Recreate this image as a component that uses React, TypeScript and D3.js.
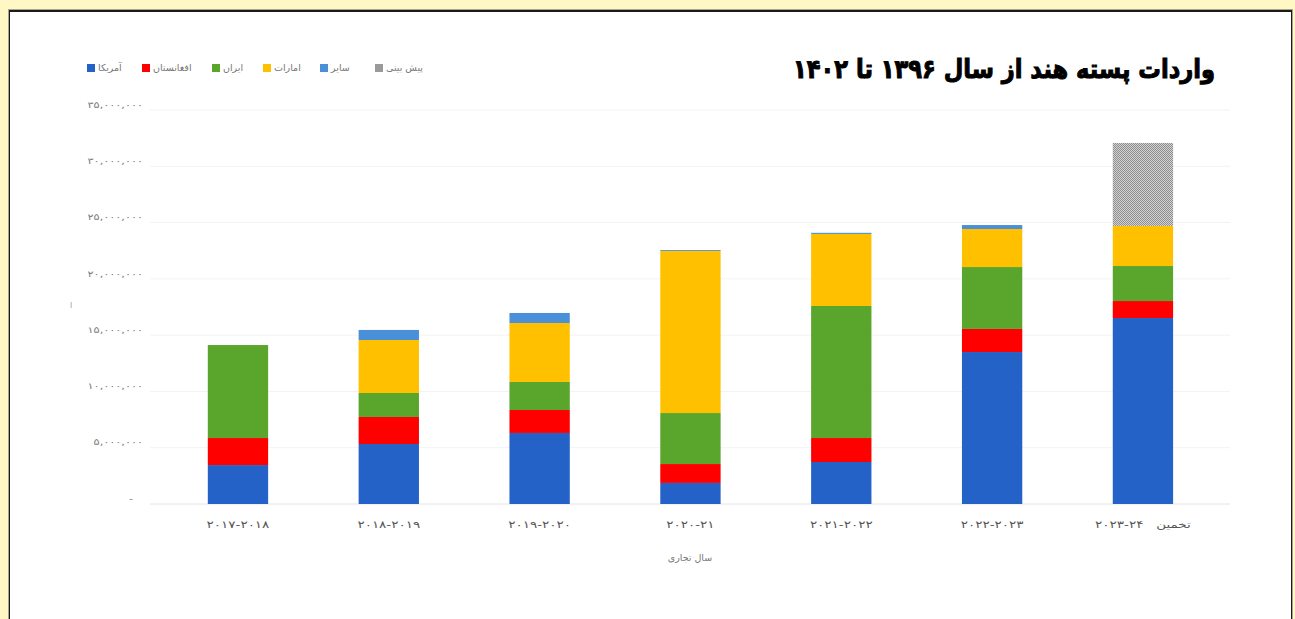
import React from "react";
import * as d3 from "d3";

const categories = ["2017-18", "2018-19", "2019-20", "2020-21", "2021-22", "2022-23", "2023-24"];
const categoryLabels = [
  "۲۰۱۷-۲۰۱۸",
  "۲۰۱۸-۲۰۱۹",
  "۲۰۱۹-۲۰۲۰",
  "۲۰۲۰-۲۱",
  "۲۰۲۱-۲۰۲۲",
  "۲۰۲۲-۲۰۲۳",
  "۲۰۲۳-۲۴\u00a0\u00a0\u00a0تخمین",
];

// values (millions)
const usa = [3.46, 5.33, 6.31, 1.87, 3.73, 13.5, 16.52].map((v) => v * 1e6);
const afghanistan = [2.4, 2.4, 2.04, 1.68, 2.13, 2.05, 1.51].map((v) => v * 1e6);
const iran = [8.26, 2.13, 2.49, 4.53, 11.73, 5.5, 3.11].map((v) => v * 1e6);
const uae = [0, 4.71, 5.24, 14.4, 6.4, 3.38, 3.56].map((v) => v * 1e6);
const other = [0, 0.89, 0.89, 0.08, 0.1, 0.35, 0].map((v) => v * 1e6);
const forecast = [0, 0, 0, 0, 0, 0, 7.37].map((v) => v * 1e6);

const seriesKeys = ["usa", "afghanistan", "iran", "uae", "other", "forecast"];
const seriesNames = ["آمریکا", "افغانستان", "ایران", "امارات", "سایر", "پیش بینی"];
const seriesColors = ["#2562c8", "#ff0000", "#5aa52c", "#ffc000", "#4a90d8", "url(#fcPattern)"];
const legendColors = ["#2562c8", "#ff0000", "#5aa52c", "#ffc000", "#4a90d8", "#9a9a9a"];

const yTicks = [0, 5e6, 10e6, 15e6, 20e6, 25e6, 30e6, 35e6];
const yTickLabels = ["-", "۵,۰۰۰,۰۰۰", "۱۰,۰۰۰,۰۰۰", "۱۵,۰۰۰,۰۰۰", "۲۰,۰۰۰,۰۰۰", "۲۵,۰۰۰,۰۰۰", "۳۰,۰۰۰,۰۰۰", "۳۵,۰۰۰,۰۰۰"];

const title = "واردات پسته هند از سال ۱۳۹۶ تا ۱۴۰۲";
const xTitle = "سال تجاری";

const W = 1295;
const H = 619;
const FONT = "'DejaVu Sans', sans-serif";

export default function App() {
  const rows = categories.map((c, i) => ({
    cat: c,
    usa: usa[i],
    afghanistan: afghanistan[i],
    iran: iran[i],
    uae: uae[i],
    other: other[i],
    forecast: forecast[i],
  }));
  const stacked = d3.stack<any>().keys(seriesKeys)(rows);

  const x = d3.scaleBand<string>().domain(categories).range([117.3, 1263.6]).padding(0.6);
  const y = d3.scaleLinear().domain([0, 35e6]).range([504, 110]);

  const legendX = [87, 142, 212, 263, 320, 375];

  return (
    <div style={{ position: "fixed", left: 0, top: 0, width: W, height: H }}>
      <svg width={W} height={H} style={{ display: "block" }}>
        <defs>
          <pattern id="fcPattern" width="2" height="2" patternUnits="userSpaceOnUse">
            <rect width="2" height="2" fill="#d2d2d2" />
            <rect x="0" y="0" width="1" height="1" fill="#8e8e8e" />
            <rect x="1" y="1" width="1" height="1" fill="#8e8e8e" />
          </pattern>
        </defs>
        <rect x={0} y={0} width={W} height={H} fill="#fff8c4" />
        <rect x={8} y={9} width={1285} height={H} fill="#a9a48a" />
        <rect x={9} y={10} width={1283} height={H} fill="#1a1a1a" />
        <rect x={10} y={12} width={1281} height={H} fill="#ffffff" />

        {/* gridlines */}
        {yTicks.map((t) => (
          <line key={t} x1={150} x2={1230} y1={y(t)} y2={y(t)} stroke={t === 0 ? "#e4e4e4" : "#f3f3f3"} strokeWidth={1} />
        ))}
        {/* y labels */}
        {yTicks.map((t, i) => (
          <text
            key={"l" + t}
            transform={`translate(${t === 0 ? 133 : 143},${y(t) - 5}) scale(1.25,1)`}
            textAnchor="end"
            dominantBaseline="middle"
            fontFamily={FONT}
            fontSize={9}
            fill="#7a7a7a"
          >
            {yTickLabels[i]}
          </text>
        ))}
        <text x={70} y={308} fontFamily={FONT} fontSize={8} fill="#999">ا</text>

        {/* bars */}
        {stacked.map((s, si) => (
          <g key={s.key} fill={seriesColors[si]}>
            {s.map((d, i) =>
              d[1] - d[0] > 0 ? (
                <rect
                  key={i}
                  x={x(categories[i])}
                  width={x.bandwidth()}
                  y={y(d[1])}
                  height={y(d[0]) - y(d[1])}
                />
              ) : null
            )}
          </g>
        ))}

        {/* x labels */}
        {categories.map((c, i) => (
          <text
            key={c}
            transform={`translate(${(x(c) as number) + x.bandwidth() / 2},528) scale(1.35,1)`}
            textAnchor="middle"
            fontFamily={FONT}
            fontSize={10}
            fill="#555"
          >
            {categoryLabels[i]}
          </text>
        ))}
        <text x={690} y={561} textAnchor="middle" fontFamily={FONT} fontSize={9.5} fill="#777">
          {xTitle}
        </text>

        {/* legend */}
        {seriesNames.map((n, i) => (
          <g key={n}>
            <rect x={legendX[i]} y={64} width={8} height={8} fill={legendColors[i]} />
            <text x={legendX[i] + 11} y={68} dominantBaseline="middle" fontFamily={FONT} fontSize={9.5} fill="#777">
              {n}
            </text>
          </g>
        ))}

        {/* title */}
        <text
          x={1215}
          y={78}
          textAnchor="end"
          fontFamily={FONT}
          fontWeight="bold"
          fontSize={26}
          fill="#000"
          stroke="#000"
          strokeWidth={1}
          textLength={422}
          lengthAdjust="spacingAndGlyphs"
        >
          {title}
        </text>
      </svg>
    </div>
  );
}
